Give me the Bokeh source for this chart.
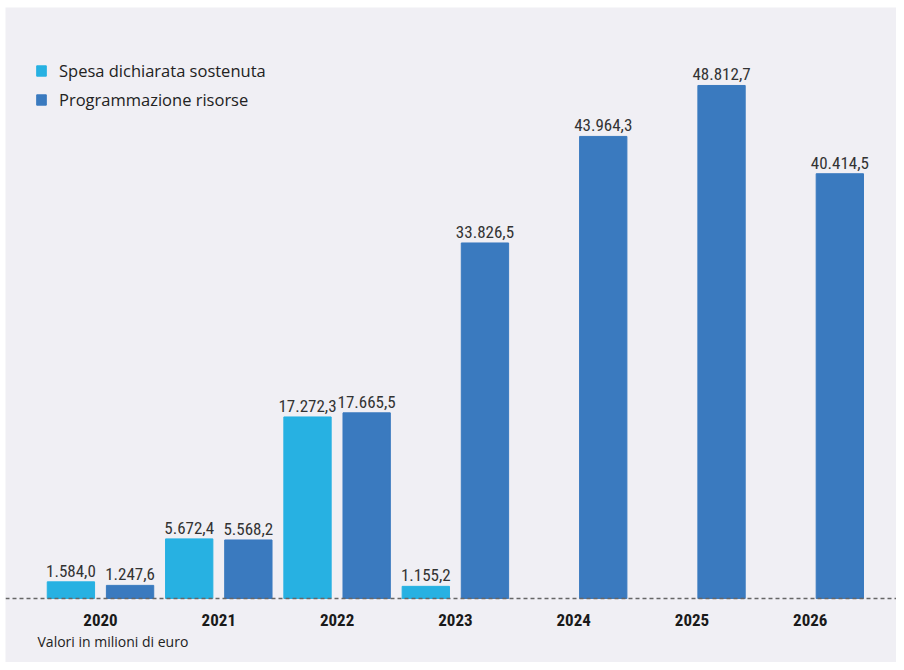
from bokeh.plotting import figure
from bokeh.models import ColumnDataSource, Range1d, Legend, LegendItem, Label, Span
from bokeh.transform import dodge
from bokeh.core.properties import value
from bokeh.embed import file_html
from bokeh.resources import INLINE

years = [2020, 2021, 2022, 2023, 2024, 2025, 2026]
spesa = [1584.0, 5672.4, 17272.3, 1155.2, None, None, None]
programmazione = [1247.6, 5568.2, 17665.5, 33826.5, 43964.3, 48812.7, 40414.5]
series_names = ["Spesa dichiarata sostenuta", "Programmazione risorse"]
note = "Valori in milioni di euro"

LIGHT = "#27b1e2"
DARK = "#3a7abf"
BG = "#f0eff4"
NUM_FONT = "'Noto Sans Condensed', 'Roboto Condensed', 'Liberation Sans Narrow', 'DejaVu Sans Condensed', sans-serif"
TXT_FONT = "Open Sans"

def fmt(v):
    s = f"{v:,.1f}"
    return s.replace(",", "X").replace(".", ",").replace("X", ".")

OFF = 0.25
W = 0.40

s_years = [y for y, s in zip(years, spesa) if s is not None]
s_vals = [s for s in spesa if s is not None]

src_s = ColumnDataSource(dict(x=s_years, y=s_vals, lab=[fmt(v) for v in s_vals]))
src_p = ColumnDataSource(dict(x=years, y=programmazione, lab=[fmt(v) for v in programmazione]))
src_y = ColumnDataSource(dict(x=years, y=[0] * len(years), lab=[str(y) for y in years]))

p = figure(frame_width=891, frame_height=655, output_backend="svg", toolbar_location=None,
           x_range=Range1d(2019.197, 2026.729), y_range=Range1d(-6090, 56232),
           min_border_left=5, min_border_right=0, min_border_top=7, min_border_bottom=0)
p.background_fill_color = BG
p.border_fill_color = "white"
p.outline_line_color = None
p.grid.visible = False
p.xaxis.visible = False
p.yaxis.visible = False

r1 = p.vbar(x=dodge("x", -OFF), top="y", width=W, source=src_s, color=LIGHT)
r2 = p.vbar(x=dodge("x", OFF), top="y", width=W, source=src_p, color=DARK)

for src, off in ((src_s, -OFF), (src_p, OFF)):
    p.text(x=dodge("x", off), y="y", text="lab", source=src, text_align="center",
           text_baseline="bottom", y_offset=-5, text_font=value(NUM_FONT),
           text_font_size="17px", text_color="#333333")

# dashed baseline and year labels
p.add_layout(Span(location=0, dimension="width", line_color="#666666",
                  line_dash="4 3", line_width=1.5))
p.text(x="x", y="y", text="lab", source=src_y, text_align="center", text_baseline="middle",
       y_offset=22, text_font=value(NUM_FONT), text_font_style="bold",
       text_font_size="17px", text_color="#1a1a1a")

legend = Legend(items=[LegendItem(label=series_names[0], renderers=[r1]),
                       LegendItem(label=series_names[1], renderers=[r2])],
                location=(30, 551), orientation="vertical")
legend.background_fill_alpha = 0
legend.border_line_color = None
legend.padding = 9
legend.margin = 0
legend.spacing = 6
legend.glyph_width = 12
legend.glyph_height = 13
legend.label_height = 20
legend.label_standoff = 12
legend.label_text_font = TXT_FONT
legend.label_text_font_size = "16.5px"
legend.label_text_color = "#222222"
p.add_layout(legend, "center")

lab = Label(x=32, y=21, x_units="screen", y_units="screen", text=note,
            text_font=TXT_FONT, text_font_size="14px", text_color="#222222",
            text_baseline="middle", text_align="left")
p.add_layout(lab)

open("out.html", "w").write(file_html(p, INLINE))
